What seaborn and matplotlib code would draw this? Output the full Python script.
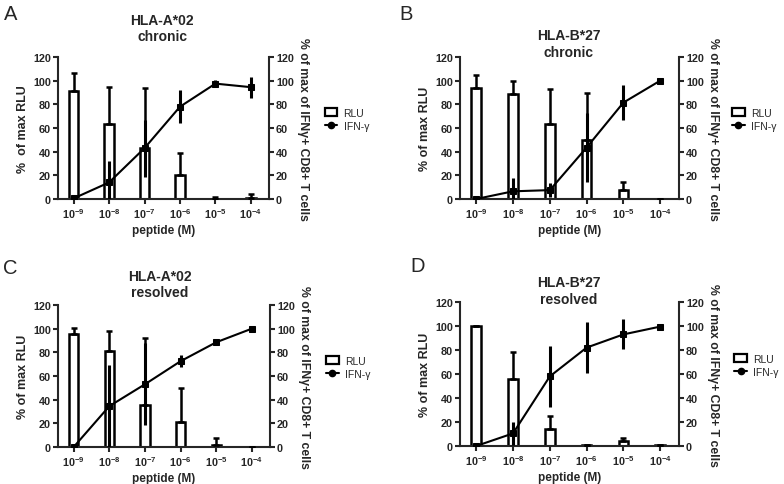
"""Dose-response panels: RLU bars vs IFN-gamma line, four HLA groups."""
import matplotlib.pyplot as plt
from matplotlib.lines import Line2D
from matplotlib.patches import Patch
import numpy as np
import pandas as pd
import seaborn as sns

concentrations = ["$10^{-9}$", "$10^{-8}$", "$10^{-7}$", "$10^{-6}$", "$10^{-5}$", "$10^{-4}$"]

# panel A: HLA-A*02 chronic
a_rlu = [91, 63, 43.5, 20.5, 0, 1]
a_rlu_err = [15.5, 32, 50.5, 18.5, 1.5, 3]
a_ifn = [0.5, 14, 43, 78, 97.5, 94.5]
a_ifn_err = [1, 18, 24, 14, 3, 9]

# panel B: HLA-B*27 chronic
b_rlu = [94, 88.5, 63, 49.5, 7.5, 0]
b_rlu_err = [10.5, 11, 30, 40.5, 6.5, 0]
b_ifn = [0, 6.5, 7.5, 43.5, 81.5, 100]
b_ifn_err = [1, 11, 6, 29.5, 15, 0]

# panel C: HLA-A*02 resolved
c_rlu = [95.5, 81, 35.5, 21, 2, 0]
c_rlu_err = [5, 17, 56.5, 28.5, 5.5, 0]
c_ifn = [0, 34.5, 53, 72.5, 88.5, 100]
c_ifn_err = [1, 34.5, 34.5, 5, 1, 0]

# panel D: HLA-B*27 resolved
d_rlu = [100, 55.5, 14.5, 0.5, 4, 0.5]
d_rlu_err = [0, 23, 10.5, 0.5, 3, 0.5]
d_ifn = [0, 10.5, 58, 82, 93, 99.5]
d_ifn_err = [1, 9.5, 25.5, 21, 12.5, 0]

sns.set_style("ticks")
plt.rcParams["font.family"] = ["Liberation Sans", "DejaVu Sans"]
plt.rcParams["mathtext.default"] = "regular"
plt.rcParams["axes.linewidth"] = 1.5

fig = plt.figure(figsize=(7.84, 4.85), dpi=100)
W, H = 784, 485


def add_axes_px(left, right, top, bottom):
    return fig.add_axes([left / W, 1 - bottom / H, (right - left) / W, (bottom - top) / H])


def fig_text_px(x, y, s, **kw):
    fig.text(x / W, 1 - y / H, s, **kw)


def draw_panel(ax, rlu, rlu_err, ifn, ifn_err, leg_x, ylabel):
    df = pd.DataFrame({"conc": concentrations, "rlu": rlu})
    sns.barplot(
        data=df, x="conc", y="rlu", ax=ax, color="white", edgecolor="black",
        linewidth=1.8, width=0.26, errorbar=None, zorder=2,
    )
    pos = np.arange(len(concentrations))
    # one-sided (upper) error bars for RLU, as GraphPad draws them
    up = np.array(rlu_err)
    ax.errorbar(pos, rlu, yerr=[np.zeros_like(up), up], fmt="none",
                ecolor="black", elinewidth=1.8, capsize=2.5, capthick=1.8, zorder=3)
    ax.set_ylim(0, 120)
    ax.set_xlim(-0.44, 5.51)
    ax.set_yticks(range(0, 121, 20))
    ax.set_xlabel("peptide (M)", fontsize=8.5, fontweight="bold", labelpad=3)
    ax.set_ylabel(ylabel, fontsize=9, fontweight="bold", labelpad=3)

    ax2 = ax.twinx()
    sns.lineplot(x=pos, y=ifn, ax=ax2, color="black", linewidth=1.5,
                 marker="s", markersize=4.5, markeredgecolor="black", zorder=4)
    ax2.errorbar(pos, ifn, yerr=ifn_err, fmt="none", ecolor="black",
                 elinewidth=2.2, capsize=0, zorder=4)
    ax2.set_ylim(0, 120)
    ax2.set_yticks(range(0, 121, 20))
    ax2.set_ylabel("% of max of IFNγ+ CD8+ T cells", fontsize=8.8,
                   fontweight="bold", rotation=270, labelpad=11)

    for a in (ax, ax2):
        a.spines["top"].set_visible(False)
        a.spines["right"].set_visible(a is ax2)
        a.spines["left"].set_visible(a is ax)
        a.tick_params(width=1.5, length=3.5, labelsize=7.8, pad=1.5)
        for t in a.get_yticklabels() + a.get_xticklabels():
            t.set_fontweight("bold")
    ax2.spines["right"].set_linewidth(1.5)
    ax2.spines["bottom"].set_visible(False)

    handles = [
        Patch(facecolor="white", edgecolor="black", linewidth=1.6),
        Line2D([], [], color="black", marker="o", markersize=4.5, linewidth=1.5),
    ]
    ax.legend(handles, ["RLU", "IFN-γ"], loc="center left",
              bbox_to_anchor=(leg_x, 0.56), frameon=False, fontsize=7.5,
              handlelength=1.2, handleheight=0.9, handletextpad=0.6,
              labelspacing=0.35)


ax_a = add_axes_px(58, 269, 58, 200)
ax_b = add_axes_px(460, 679, 58, 200)
ax_c = add_axes_px(58, 270, 306, 448)
ax_d = add_axes_px(460, 679, 303, 447)

draw_panel(ax_a, a_rlu, a_rlu_err, a_ifn, a_ifn_err, 1.22, "%  of max RLU")
draw_panel(ax_b, b_rlu, b_rlu_err, b_ifn, b_ifn_err, 1.20, "% of max RLU")
draw_panel(ax_c, c_rlu, c_rlu_err, c_ifn, c_ifn_err, 1.22, "% of max RLU")
draw_panel(ax_d, d_rlu, d_rlu_err, d_ifn, d_ifn_err, 1.21, "% of max RLU")

title_kw = dict(fontsize=10, fontweight="bold", ha="center", va="center",
                linespacing=1.2)
fig_text_px(162, 29, "HLA-A*02\nchronic", **title_kw)
fig_text_px(569, 44.5, "HLA-B*27\nchronic", **title_kw)
fig_text_px(160, 285, "HLA-A*02\nresolved", **title_kw)
fig_text_px(569, 291.5, "HLA-B*27\nresolved", **title_kw)

letter_kw = dict(fontsize=14.5, ha="center", va="center")
fig_text_px(11, 15, "A", **letter_kw)
fig_text_px(406, 15, "B", **letter_kw)
fig_text_px(10, 268, "C", **letter_kw)
fig_text_px(418, 267, "D", **letter_kw)

fig.savefig("out.png", dpi=100)
